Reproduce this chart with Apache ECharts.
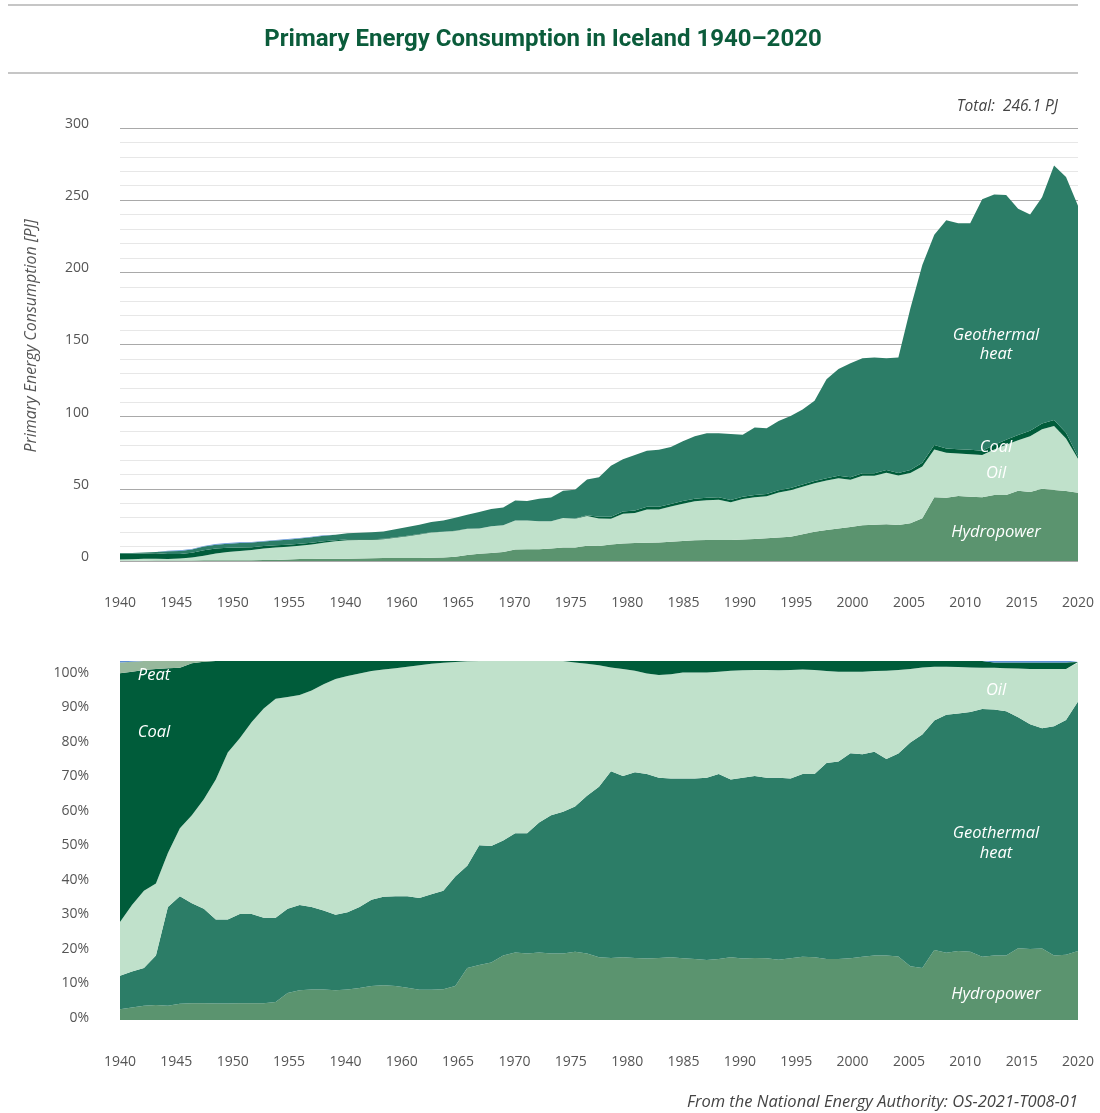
<!DOCTYPE html>
<html>
<head>
<meta charset="utf-8">
<title>Primary Energy Consumption in Iceland 1940–2020</title>
<script type="text/javascript" src="https://cdn.jsdelivr.net/npm/echarts@6/dist/echarts.min.js"></script>
<style>
html, body { margin: 0; padding: 0; background: #fff; }
#main { width: 1100px; height: 1113px; }
</style>
</head>
<body>
<div id="main"></div>
<script type="text/javascript">
var years = [];
for (var y = 1940; y <= 2020; y++) years.push(String(y));

// tick labels as printed under both panels (the fifth one really reads 1940)
var tickLabels = ['1940','1945','1950','1955','1940','1960','1965','1970','1975',
                  '1980','1985','1990','1995','2000','2005','2010','2015','2020'];

// upper panel, PJ per year 1940-2020
var hydroPJ = [
  0.17,0.2,0.24,0.27,0.28,0.32,0.38,0.47,0.53,0.56,
  0.59,0.6,0.63,0.71,1.1,1.3,1.4,1.5,1.5,1.6,
  1.7,1.9,2.0,2.1,2.1,2.1,2.3,2.4,2.9,4.2,
  5.1,5.5,6.3,7.9,8.2,8.2,8.6,9.4,9.4,10.5,
  10.4,11.5,12.2,12.4,12.6,12.9,13.3,13.8,14.3,14.5,
  14.5,14.5,14.9,15.3,15.7,16.2,16.8,18.5,20.3,21.5,
  22.6,23.6,24.8,25.2,25.4,24.9,26.1,29.6,44.1,43.9,
  45,44.5,44.1,45.7,45.7,48.7,47.8,50.1,49.2,48.5,47.3
];
var oilPJ = [
  0.86,1.07,1.29,1.28,1.1,1.35,2.04,3.15,4.75,5.76,
  6.4,7.0,8.0,8.7,8.8,9.2,10.0,11.2,12.1,12.7,
  12.8,12.7,13.0,14.0,15.1,16.3,17.4,17.8,17.9,18.2,
  17.4,18.5,18.5,20.2,19.9,19.4,18.9,20.4,19.8,20.7,
  19.1,17.8,20.5,20.8,23.1,22.8,24.4,25.9,27.1,27.6,
  28,26.2,28,28.9,29.2,31.3,32.2,33,33.6,34.2,
  34.7,32.7,34.2,33.8,35.8,34.3,34.9,35.9,33.1,31.1,
  29.5,29.5,29.3,31.5,34.9,35,38.7,41.2,44.3,36.4,23.5
];
var coalPJ = [
  3.95,3.77,3.69,3.83,3.48,3.17,3.31,3.75,3.39,2.88,
  2.44,1.98,1.69,1.42,1.38,1.4,1.23,0.96,0.82,0.71,
  0.59,0.5,0.45,0.4,0.33,0.25,0.19,0.14,0.09,0.03,
  0,0,0,0,0,0,0,0,0.2,0.45,
  1.2,1.4,1.6,1.8,1.9,1.9,1.8,1.8,1.8,1.7,
  1.6,1.6,1.6,1.5,1.5,1.5,1.5,1.5,1.6,1.6,
  1.7,1.7,1.8,1.8,1.8,1.8,2.0,2.5,3.2,3.0,
  3.0,3.0,3.0,3.2,3.4,3.6,3.8,4.0,4.2,4.0,1.5
];
var geoPJ = [
  0.53,0.58,0.63,0.88,1.9,2.13,2.22,2.63,2.63,2.8,
  3.1,3.17,3.21,3.34,3.48,3.7,3.77,3.85,3.84,4.13,
  4.4,4.78,5.04,5.5,6.0,6.4,7.2,7.7,9.15,9.6,
  11.5,12.0,12.2,13.9,13.4,15.5,16.5,18.8,20.0,24.9,
  27.3,35.3,36.2,38.5,38.8,39.4,39.5,41.5,43.3,44.7,
  44.4,45.7,43,46.8,45.6,48,50,52,55.5,68.7,
  74,79,79.7,80.2,77.5,80,112,137,145.6,158,
  156.5,157,174.2,173.6,169.6,156.7,149.7,156.7,176.3,177.1,173.8
];
var otherPJ = [
  0,0,0,0,0.4,0.4,0.4,0.4,0.4,0.4,
  0.4,0.4,0.4,0.4,0.4,0.4,0.4,0.4,0,0,
  0,0,0,0,0,0,0,0,0,0,
  0,0,0,0,0,0,0,0,0,0,
  0,0,0,0,0,0,0,0,0,0,
  0,0,0,0,0,0,0,0,0,0,
  0,0,0,0,0,0,0,0,0,0,
  0,0,0,0,0,0,0,0,0,0,0
];

// lower panel, share of total in %
var hydroPct = [
  3.0,3.5,4.0,4.2,4.0,4.5,4.7,4.7,4.6,4.6,
  4.7,4.7,4.7,5.0,7.5,8.3,8.5,8.5,8.3,8.5,
  8.9,9.5,9.7,9.5,9.0,8.4,8.4,8.6,9.5,14.5,
  15.3,16.0,18.0,18.8,18.5,18.8,18.5,18.5,19.0,18.5,
  17.5,17.3,17.5,17.3,17.1,17.3,17.5,17.2,17.0,16.7,
  17.0,17.5,17.1,17.3,17.2,16.8,17.2,17.6,17.5,17.0,
  17.0,17.2,17.6,18.0,18.0,17.7,15.0,14.5,19.5,18.7,
  19.2,19.0,17.6,18.0,18.0,20.0,19.8,19.9,18.0,18.2,19.2
];
var geoPct = [
  9.3,10.0,10.5,13.8,27.5,30.0,27.8,26.3,23.4,23.4,
  24.8,24.8,23.8,23.5,23.5,23.7,23.0,22.0,21.0,21.5,
  22.6,24.0,24.6,25.0,25.5,25.6,26.6,27.4,30.5,28.5,
  33.4,32.5,32.0,33.2,33.5,36.2,38.5,39.5,40.5,44.0,
  47.5,52.0,50.5,51.7,51.4,50.2,49.8,50.1,50.3,50.8,
  51.5,49.5,50.4,50.7,50.3,50.7,50.1,50.9,51.0,54.6,
  55.0,57.1,56.4,56.7,54.7,56.5,62.3,65.0,63.9,66.3,
  66.2,66.8,69.0,68.5,68.0,64.3,62.6,61.4,63.8,65.4,69.5
];
var oilPct = [
  15,18.5,21.5,20,15,18.9,24.5,30.5,39,46.5,
  49,53.5,58.3,61,59,58.5,60.3,63,65.7,65.8,
  65,63.7,63.3,63.5,63.9,64.8,64.2,63.5,59.7,56.9,
  51.3,51.5,50,48,48,45,43,42,40.1,36.7,
  33.8,28.9,29.8,28.3,28,28.6,29,29.5,29.5,29.3,
  28.5,30.3,29.9,29.5,30,29.9,30.2,29.1,29,25.6,
  25,22.7,23,22.5,24.6,23.3,20.5,18.7,15,13.4,
  12.9,12.4,11.5,11.6,12,13.6,15.4,16.5,16,14.2,10.8
];
var coalPct = [
  69.3,65,61.5,59.8,51.5,44.7,42.4,38.3,33,25.5,
  21.5,17,13.2,10.5,10,9.5,8.2,6.5,5,4.2,
  3.5,2.8,2.4,2,1.6,1.2,0.8,0.5,0.3,0.1,
  0,0,0,0,0,0,0,0,0.4,0.8,
  1.2,1.8,2.2,2.7,3.5,3.9,3.7,3.2,3.2,3.2,
  3,2.7,2.6,2.5,2.5,2.6,2.5,2.4,2.5,2.8,
  3,3,3,2.8,2.7,2.5,2.2,1.8,1.6,1.6,
  1.7,1.8,1.9,1.5,1.6,1.7,1.8,1.8,1.8,1.8,0.2
];
var peatPct = [
  3.0,2.8,2.5,2.2,2.0,1.9,0.6,0.2,0,0,
  0,0,0,0,0,0,0,0,0,0,
  0,0,0,0,0,0,0,0,0,0,
  0,0,0,0,0,0,0,0,0,0,
  0,0,0,0,0,0,0,0,0,0,
  0,0,0,0,0,0,0,0,0,0,
  0,0,0,0,0,0,0,0,0,0,
  0,0,0,0,0,0,0,0,0,0,0
];
var otherPct = [
  0.4,0.2,0,0,0,0,0,0,0,0,
  0,0,0,0,0,0,0,0,0,0,
  0,0,0,0,0,0,0,0,0,0,
  0,0,0,0,0,0,0,0,0,0,
  0,0,0,0,0,0,0,0,0,0,
  0,0,0,0,0,0,0,0,0,0,
  0,0,0,0,0,0,0,0,0,0,
  0,0,0,0.4,0.4,0.4,0.4,0.4,0.4,0.4,0.3
];

var COL = {
  hydro: '#5b946f',
  geo: '#2c7d67',
  oil: '#c0e1cb',
  coal: '#005c3a',
  peat: '#97b89c',
  other: '#5b8fd6'
};
var FONT = '"Open Sans", "Noto Sans", sans-serif';

function area(name, vals, color, stack, xi, yi) {
  return {
    name: name,
    type: 'line',
    stack: stack,
    xAxisIndex: xi,
    yAxisIndex: yi,
    symbol: 'none',
    silent: true,
    lineStyle: { width: 0 },
    itemStyle: { color: color },
    areaStyle: { color: color, opacity: 1 },
    data: vals
  };
}

function yearAxis(grid) {
  return { gridIndex: grid, type: 'category', data: years, boundaryGap: false, position: 'bottom', show: false };
}
function tickAxis(grid, margin) {
  return {
    gridIndex: grid, type: 'category', data: tickLabels, boundaryGap: false, position: 'bottom',
    axisLine: { show: false }, axisTick: { show: false }, splitLine: { show: false },
    axisLabel: { interval: 0, color: '#555', fontSize: 14, fontFamily: FONT, margin: margin }
  };
}

function label(text, x, y) {
  return {
    type: 'text', x: x, y: y, silent: true, z: 100,
    style: { text: text, fill: '#fff', font: 'italic 16.5px ' + FONT, align: 'center', verticalAlign: 'middle' }
  };
}

var dom = document.getElementById('main');
var myChart = echarts.init(dom);

var option = {
  animation: false,
  backgroundColor: '#fff',
  grid: [
    { left: 120, right: 22, top: 128, height: 433 },
    { left: 120, right: 22, top: 661, height: 359 },
    // labels of the lower panel sit on their own slightly shorter scale
    { left: 120, right: 22, top: 673, height: 345 }
  ],
  xAxis: [
    yearAxis(0), tickAxis(0, 35),
    yearAxis(1), tickAxis(1, 35),
    { gridIndex: 2, type: 'value', min: 0, max: 1, show: false }
  ],
  yAxis: [
    {
      gridIndex: 0, type: 'value', min: 0, max: 300, interval: 50,
      axisLine: { show: false }, axisTick: { show: false },
      axisLabel: { color: '#555', fontSize: 14, fontFamily: FONT, margin: 31, verticalAlign: 'bottom', lineHeight: 8 },
      splitLine: { lineStyle: { color: '#a9a9a9', width: 1 } },
      minorTick: { show: false, splitNumber: 5 },
      minorSplitLine: { show: true, lineStyle: { color: '#e7e7e7', width: 1 } }
    },
    { gridIndex: 1, type: 'value', min: 0, max: 100, show: false },
    {
      gridIndex: 2, type: 'value', min: 0, max: 100, interval: 10,
      axisLine: { show: false }, axisTick: { show: false }, splitLine: { show: false },
      axisLabel: { color: '#555', fontSize: 14, fontFamily: FONT, margin: 31, formatter: '{value}%' }
    }
  ],
  series: [
    area('Hydropower', hydroPJ, COL.hydro, 'pj', 0, 0),
    area('Oil', oilPJ, COL.oil, 'pj', 0, 0),
    area('Coal', coalPJ, COL.coal, 'pj', 0, 0),
    area('Geothermal heat', geoPJ, COL.geo, 'pj', 0, 0),
    area('Other', otherPJ, COL.other, 'pj', 0, 0),

    area('Hydropower', hydroPct, COL.hydro, 'pct', 2, 1),
    area('Geothermal heat', geoPct, COL.geo, 'pct', 2, 1),
    area('Oil', oilPct, COL.oil, 'pct', 2, 1),
    area('Coal', coalPct, COL.coal, 'pct', 2, 1),
    area('Peat', peatPct, COL.peat, 'pct', 2, 1),
    area('Other', otherPct, COL.other, 'pct', 2, 1)
  ],
  graphic: [
    { type: 'line', silent: true, shape: { x1: 8, y1: 5, x2: 1078, y2: 5 }, style: { stroke: '#c6c6c6', lineWidth: 2 } },
    { type: 'line', silent: true, shape: { x1: 8, y1: 73, x2: 1078, y2: 73 }, style: { stroke: '#c6c6c6', lineWidth: 2 } },
    {
      type: 'text', x: 543, y: 40, silent: true,
      style: { text: 'Primary Energy Consumption in Iceland 1940–2020', fill: '#0b5c3b',
               font: 'bold 24px Roboto, "Open Sans", sans-serif', align: 'center', verticalAlign: 'middle' }
    },
    {
      type: 'text', x: 1058, y: 107, silent: true,
      style: { text: 'Total:  246.1 PJ', fill: '#444', font: 'italic 15.5px ' + FONT, align: 'right', verticalAlign: 'middle' }
    },
    {
      type: 'text', x: 31, y: 336, rotation: Math.PI / 2, silent: true,
      style: { text: 'Primary Energy Consumption [PJ]', fill: '#555', font: 'italic 16px ' + FONT, align: 'center', verticalAlign: 'middle' }
    },
    {
      type: 'text', x: 1078, y: 1102, silent: true,
      style: { text: 'From the National Energy Authority: OS-2021-T008-01', fill: '#444', font: 'italic 16.5px ' + FONT, align: 'right', verticalAlign: 'middle' }
    },
    label('Geothermal', 996, 335),
    label('heat', 996, 354),
    label('Coal', 996, 447),
    label('Oil', 996, 473),
    label('Hydropower', 996, 532),
    label('Peat', 154, 675),
    label('Coal', 154, 732),
    label('Oil', 996, 690),
    label('Geothermal', 996, 833),
    label('heat', 996, 853),
    label('Hydropower', 996, 994)
  ]
};

if (option && typeof option === 'object') {
  myChart.setOption(option, true);
}
</script>
</body>
</html>
